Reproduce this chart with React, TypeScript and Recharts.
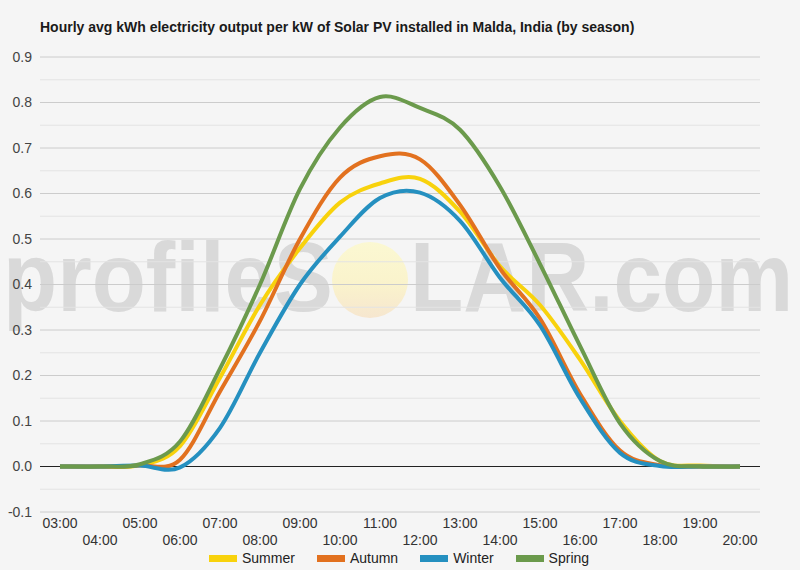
import * as React from "react";
import {
  LineChart,
  Line,
  XAxis,
  YAxis,
  ReferenceLine,
} from "recharts";

const hours = [
  "03:00", "04:00", "05:00", "06:00", "07:00", "08:00", "09:00", "10:00", "11:00",
  "12:00", "13:00", "14:00", "15:00", "16:00", "17:00", "18:00", "19:00", "20:00",
];

const summer = [0, 0, 0.003, 0.045, 0.195, 0.355, 0.48, 0.58, 0.622, 0.632, 0.56, 0.44, 0.355, 0.235, 0.1, 0.012, 0.002, 0];
const autumn = [0, 0, 0.002, 0.015, 0.165, 0.32, 0.5, 0.635, 0.682, 0.675, 0.575, 0.435, 0.325, 0.16, 0.035, 0.003, 0, 0];
const winter = [0, 0, 0.002, -0.002, 0.085, 0.25, 0.4, 0.505, 0.59, 0.602, 0.54, 0.415, 0.31, 0.15, 0.03, 0.001, 0, 0];
const spring = [0, 0, 0.005, 0.055, 0.215, 0.4, 0.61, 0.745, 0.812, 0.788, 0.74, 0.615, 0.445, 0.265, 0.095, 0.012, 0, 0];

const yTicks = [-0.1, 0, 0.1, 0.2, 0.3, 0.4, 0.5, 0.6, 0.7, 0.8, 0.9];
const minorGrid = [-0.05, 0.05, 0.15, 0.25, 0.35, 0.45, 0.55, 0.65, 0.75, 0.85];

const TITLE = "Hourly avg kWh electricity output per kW of Solar PV installed in Malda, India (by season)";

const series = [
  { key: "summer", name: "Summer", color: "#f8d20c", values: summer },
  { key: "autumn", name: "Autumn", color: "#e2711f", values: autumn },
  { key: "winter", name: "Winter", color: "#2590c0", values: winter },
  { key: "spring", name: "Spring", color: "#6b9a4c", values: spring },
];

const data = hours.map((hour, i) => {
  const row: Record<string, string | number> = { hour };
  for (const s of series) row[s.key] = s.values[i];
  return row;
});

const FONT = "'Liberation Sans', Arial, sans-serif";

// Catmull-Rom style smoothing (passes through every point, may overshoot slightly)
function smoothCurve(context: any) {
  let pts: [number, number][] = [];
  return {
    areaStart() {},
    areaEnd() {},
    lineStart() {
      pts = [];
    },
    lineEnd() {
      if (!pts.length) return;
      context.moveTo(pts[0][0], pts[0][1]);
      for (let i = 0; i < pts.length - 1; i++) {
        const p0 = pts[i - 1] || pts[i];
        const p1 = pts[i];
        const p2 = pts[i + 1];
        const p3 = pts[i + 2] || p2;
        context.bezierCurveTo(
          p1[0] + (p2[0] - p0[0]) / 6,
          p1[1] + (p2[1] - p0[1]) / 6,
          p2[0] - (p3[0] - p1[0]) / 6,
          p2[1] - (p3[1] - p1[1]) / 6,
          p2[0],
          p2[1]
        );
      }
    },
    point(x: number, y: number) {
      pts.push([+x, +y]);
    },
  };
}

// hour labels alternate between two rows so they don't collide
function HourTick(props: any) {
  const { x, y, payload, index } = props;
  const row = index % 2;
  return (
    <text
      x={x}
      y={y + 8 + row * 17}
      textAnchor="middle"
      fontSize={14}
      fontFamily={FONT}
      fill="#333"
    >
      {payload.value}
    </text>
  );
}

function Watermark() {
  return (
    <svg width={800} height={570} style={{ position: "absolute", left: 0, top: 0 }}>
      <defs>
        <linearGradient id="sunFill" x1="0" y1="0" x2="0" y2="1">
          <stop offset="0%" stopColor="#fbf8d2" />
          <stop offset="55%" stopColor="#faf3cc" />
          <stop offset="100%" stopColor="#f6e6cf" />
        </linearGradient>
      </defs>
      <text
        x={3}
        y={311}
        fontSize={98}
        fontWeight={700}
        fontFamily={FONT}
        fill="#d9d9d9"
        textLength={330}
        lengthAdjust="spacingAndGlyphs"
      >
        profileS
      </text>
      <circle cx={370} cy={280} r={38} fill="url(#sunFill)" />
      <text
        x={410}
        y={311}
        fontSize={98}
        fontWeight={700}
        fontFamily={FONT}
        fill="#d9d9d9"
        textLength={383}
        lengthAdjust="spacingAndGlyphs"
      >
        LAR.com
      </text>
    </svg>
  );
}

export default function App() {
  return (
    <div
      style={{
        position: "fixed",
        left: 0,
        top: 0,
        width: 800,
        height: 570,
        background: "#f5f5f5",
        fontFamily: FONT,
        overflow: "hidden",
      }}
    >
      <Watermark />
      <div
        style={{
          position: "absolute",
          left: 40,
          top: 19,
          fontSize: 14,
          fontWeight: 700,
          color: "#1a1a1a",
          whiteSpace: "nowrap",
        }}
      >
        {TITLE}
      </div>
      <div style={{ position: "absolute", left: 0, top: 0 }}>
        <LineChart
          width={800}
          height={570}
          data={data}
          margin={{ top: 57, right: 40, bottom: 18, left: 0 }}
        >
          {minorGrid.map((v) => (
            <ReferenceLine key={`m${v}`} y={v} stroke="#e3e3e3" strokeWidth={1} />
          ))}
          {yTicks.map((v) => (
            <ReferenceLine key={`M${v}`} y={v} stroke={v === 0 ? "#222" : "#cccccc"} strokeWidth={1} />
          ))}
          <XAxis
            dataKey="hour"
            padding={{ left: 20, right: 20 }}
            axisLine={false}
            tickLine={false}
            interval={0}
            height={40}
            tick={<HourTick />}
          />
          <YAxis
            domain={[-0.1, 0.9]}
            ticks={yTicks}
            width={40}
            axisLine={false}
            tickLine={false}
            tickSize={6}
            tickMargin={2}
            tickFormatter={(v: number) => v.toFixed(1)}
            tick={{ fontSize: 14, fill: "#444", fontFamily: FONT }}
          />
          {series.map((s) => (
            <Line
              key={s.key}
              type={smoothCurve as any}
              dataKey={s.key}
              name={s.name}
              stroke={s.color}
              strokeWidth={4}
              dot={false}
              isAnimationActive={false}
            />
          ))}
        </LineChart>
      </div>
      <div
        style={{
          position: "absolute",
          left: 209,
          top: 550,
          display: "flex",
          alignItems: "center",
          fontSize: 14,
          color: "#222",
        }}
      >
        {series.map((s) => (
          <div key={s.key} style={{ display: "flex", alignItems: "center", marginRight: 22 }}>
            <span
              style={{ display: "inline-block", width: 28, height: 7, background: s.color, marginRight: 5 }}
            />
            <span>{s.name}</span>
          </div>
        ))}
      </div>
    </div>
  );
}
